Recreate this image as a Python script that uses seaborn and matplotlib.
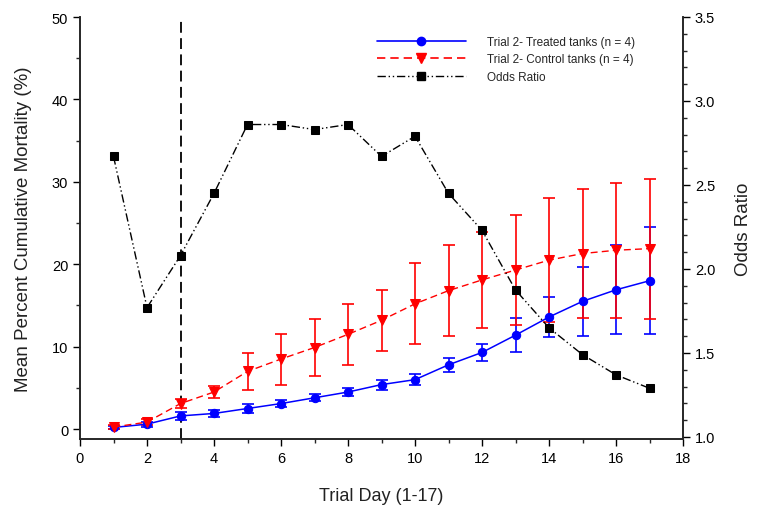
import numpy as np
import pandas as pd
import matplotlib
matplotlib.use("Agg")
import matplotlib.pyplot as plt
from matplotlib.lines import Line2D
from matplotlib.ticker import MultipleLocator
import seaborn as sns

days = list(range(1, 18))
treated_mean = [0.2, 0.6, 1.6, 1.9, 2.5, 3.1, 3.8, 4.5, 5.4, 6.0, 7.8, 9.3, 11.4, 13.6, 15.5, 16.9, 18.0]
treated_err = [0.2, 0.3, 0.5, 0.4, 0.5, 0.4, 0.4, 0.5, 0.6, 0.7, 0.85, 1.0, 2.1, 2.4, 4.2, 5.4, 6.5]
control_mean = [0.25, 0.85, 3.1, 4.5, 7.0, 8.5, 9.9, 11.5, 13.2, 15.2, 16.8, 18.1, 19.3, 20.5, 21.3, 21.7, 21.9]
control_err = [0.2, 0.4, 0.5, 0.7, 2.2, 3.1, 3.4, 3.7, 3.7, 4.9, 5.5, 5.8, 6.7, 7.5, 7.8, 8.2, 8.5]
odds_ratio = [2.67, 1.77, 2.08, 2.45, 2.86, 2.86, 2.83, 2.86, 2.67, 2.79, 2.45, 2.23, 1.875, 1.65, 1.49, 1.37, 1.29]
legend_labels = ["Trial 2- Treated tanks (n = 4)", "Trial 2- Control tanks (n = 4)", "Odds Ratio"]

df = pd.DataFrame({"day": days, "treated": treated_mean, "control": control_mean, "odds": odds_ratio})

sns.set_style("ticks")
plt.rcParams['font.family'] = ['Liberation Sans', 'DejaVu Sans']
plt.rcParams['xtick.direction'] = 'out'
plt.rcParams['ytick.direction'] = 'out'

fig = plt.figure(figsize=(7.57, 5.10), dpi=100)
ax = fig.add_axes([80/757, 70/510, (683-80)/757, (440-18)/510])
ax2 = ax.twinx()

blue = "#0000ff"
red = "#ff0000"
red_ls = (0, (5, 3))
odds_ls = (0, (6, 2, 1, 2, 1, 2))

# error bars
ax.errorbar(days, treated_mean, yerr=treated_err, fmt='none', ecolor=blue, elinewidth=1.2, capsize=4.5, capthick=1.2, zorder=2)
ax.errorbar(days, control_mean, yerr=control_err, fmt='none', ecolor=red, elinewidth=1.2, capsize=4.5, capthick=1.2, zorder=2)

sns.lineplot(data=df, x="day", y="treated", ax=ax, color=blue, marker='o', markersize=6,
             markeredgecolor=blue, linewidth=1.1, zorder=3)
sns.lineplot(data=df, x="day", y="control", ax=ax, color=red, marker='v', markersize=7,
             markeredgecolor=red, linewidth=1.0, linestyle=red_ls, zorder=3)
sns.lineplot(data=df, x="day", y="odds", ax=ax2, color="black", marker='s', markersize=6,
             markeredgecolor="black", linewidth=1.0, linestyle=odds_ls, zorder=3)

ax.axvline(3, color="black", linestyle=(0, (6, 3)), linewidth=1.3, zorder=1)

ax.set_xlim(0, 18)
ax.set_ylim(-1.2, 50)
ax2.set_ylim(0.988, 3.5)

ax.xaxis.set_major_locator(MultipleLocator(2))
ax.xaxis.set_minor_locator(MultipleLocator(1))
ax.yaxis.set_major_locator(MultipleLocator(10))
ax.yaxis.set_minor_locator(MultipleLocator(5))
ax2.yaxis.set_minor_locator(MultipleLocator(0.1))
ax2.set_yticks(np.arange(1.0, 3.51, 0.5))
ax2.set_yticklabels([f"{v:.1f}" for v in np.arange(1.0, 3.51, 0.5)])

for a in (ax, ax2):
    a.spines['top'].set_visible(False)
    for s in a.spines.values():
        s.set_linewidth(1.2)
    a.tick_params(which='major', length=5, width=1.0, labelsize=10.5, colors="black")
    a.tick_params(which='minor', length=3, width=1.0)

ax.set_xlabel("Trial Day (1-17)", fontsize=13, labelpad=16, color="#222222")
ax.set_ylabel("Mean Percent Cumulative Mortality (%)", fontsize=13.5, labelpad=14, color="#222222")
ax2.set_ylabel("Odds Ratio", fontsize=13.5, color="#222222", labelpad=14)

handles = [
    Line2D([], [], color=blue, marker='o', markersize=6, linewidth=1.2),
    Line2D([], [], color=red, marker='v', markersize=7, linewidth=1.2, linestyle=red_ls),
    Line2D([], [], color="black", marker='s', markersize=6, linewidth=1.0, linestyle=odds_ls),
]
ax.legend(handles, legend_labels, loc='upper left', bbox_to_anchor=(0.475, 0.98), frameon=False,
          fontsize=8.5, handlelength=7.5, labelspacing=0.45, handletextpad=1.8)

fig.savefig("out.png", dpi=100)
